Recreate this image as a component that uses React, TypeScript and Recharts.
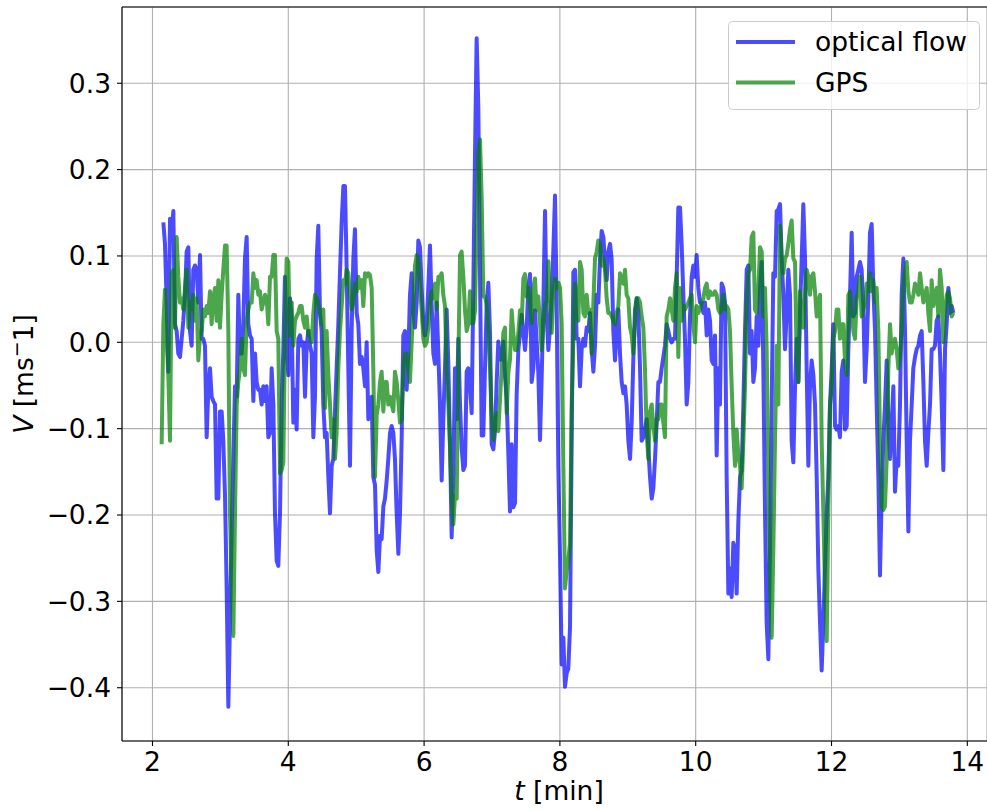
import React from "react"
import { CartesianGrid, Legend, Line, LineChart, ReferenceLine, XAxis, YAxis } from "recharts"

// time of each sample [min]
const minutes = [
  2.135, 2.160, 2.184,
  2.209, 2.233, 2.258, 2.282, 2.307, 2.331, 2.356, 2.380, 2.405, 2.430,
  2.454, 2.479, 2.503, 2.528, 2.552, 2.577, 2.601, 2.626, 2.651, 2.675,
  2.700, 2.724, 2.749, 2.773, 2.798, 2.822, 2.847, 2.871, 2.896, 2.921,
  2.945, 2.970, 2.994, 3.019, 3.043, 3.068, 3.092, 3.117, 3.141, 3.166,
  3.191, 3.215, 3.240, 3.264, 3.289, 3.313, 3.338, 3.362, 3.387, 3.411,
  3.436, 3.461, 3.485, 3.510, 3.534, 3.559, 3.583, 3.608, 3.632, 3.657,
  3.681, 3.706, 3.731, 3.755, 3.780, 3.804, 3.829, 3.853, 3.878, 3.902,
  3.927, 3.951, 3.976, 4.001, 4.025, 4.050, 4.074, 4.099, 4.123, 4.148,
  4.172, 4.197, 4.222, 4.246, 4.271, 4.295, 4.320, 4.344, 4.369, 4.393,
  4.418, 4.442, 4.467, 4.491, 4.516, 4.541, 4.565, 4.590, 4.614, 4.639,
  4.663, 4.688, 4.712, 4.737, 4.761, 4.786, 4.811, 4.835, 4.860, 4.884,
  4.909, 4.933, 4.958, 4.982, 5.007, 5.031, 5.056, 5.081, 5.105, 5.130,
  5.154, 5.179, 5.203, 5.228, 5.252, 5.277, 5.302, 5.326, 5.351, 5.375,
  5.400, 5.424, 5.449, 5.473, 5.498, 5.522, 5.547, 5.571, 5.596, 5.621,
  5.645, 5.670, 5.694, 5.719, 5.743, 5.768, 5.792, 5.817, 5.842, 5.866,
  5.891, 5.915, 5.940, 5.964, 5.989, 6.013, 6.038, 6.062, 6.087, 6.112,
  6.136, 6.161, 6.185, 6.210, 6.234, 6.259, 6.283, 6.308, 6.332, 6.357,
  6.382, 6.406, 6.431, 6.455, 6.480, 6.504, 6.529, 6.553, 6.578, 6.602,
  6.627, 6.651, 6.676, 6.701, 6.725, 6.750, 6.774, 6.799, 6.823, 6.848,
  6.872, 6.897, 6.922, 6.946, 6.971, 6.995, 7.020, 7.044, 7.069, 7.093,
  7.118, 7.142, 7.167, 7.192, 7.216, 7.241, 7.265, 7.290, 7.314, 7.339,
  7.363, 7.388, 7.413, 7.437, 7.462, 7.486, 7.511, 7.535, 7.560, 7.584,
  7.609, 7.633, 7.658, 7.682, 7.707, 7.732, 7.756, 7.781, 7.805, 7.830,
  7.854, 7.879, 7.903, 7.928, 7.952, 7.977, 8.002, 8.026, 8.051, 8.075,
  8.100, 8.124, 8.149, 8.173, 8.198, 8.222, 8.247, 8.272, 8.296, 8.321,
  8.345, 8.370, 8.394, 8.419, 8.443, 8.468, 8.493, 8.517, 8.542, 8.566,
  8.591, 8.615, 8.640, 8.664, 8.689, 8.713, 8.738, 8.762, 8.787, 8.812,
  8.836, 8.861, 8.885, 8.910, 8.934, 8.959, 8.983, 9.008, 9.033, 9.057,
  9.082, 9.106, 9.131, 9.155, 9.180, 9.204, 9.229, 9.253, 9.278, 9.302,
  9.327, 9.352, 9.376, 9.401, 9.425, 9.450, 9.474, 9.499, 9.523, 9.548,
  9.572, 9.597, 9.622, 9.646, 9.671, 9.695, 9.720, 9.744, 9.769, 9.793,
  9.818, 9.842, 9.867, 9.892, 9.916, 9.941, 9.965, 9.990, 10.014, 10.039,
  10.063, 10.088, 10.113, 10.137, 10.162, 10.186, 10.211, 10.235, 10.260, 10.284,
  10.309, 10.333, 10.358, 10.382, 10.407, 10.432, 10.456, 10.481, 10.505, 10.530,
  10.554, 10.579, 10.603, 10.628, 10.653, 10.677, 10.702, 10.726, 10.751, 10.775,
  10.800, 10.824, 10.849, 10.873, 10.898, 10.923, 10.947, 10.972, 10.996, 11.021,
  11.045, 11.070, 11.094, 11.119, 11.143, 11.168, 11.193, 11.217, 11.242, 11.266,
  11.291, 11.315, 11.340, 11.364, 11.389, 11.413, 11.438, 11.463, 11.487, 11.512,
  11.536, 11.561, 11.585, 11.610, 11.634, 11.659, 11.683, 11.708, 11.733, 11.757,
  11.782, 11.806, 11.831, 11.855, 11.880, 11.904, 11.929, 11.953, 11.978, 12.003,
  12.027, 12.052, 12.076, 12.101, 12.125, 12.150, 12.174, 12.199, 12.224, 12.248,
  12.273, 12.297, 12.322, 12.346, 12.371, 12.395, 12.420, 12.444, 12.469, 12.493,
  12.518, 12.543, 12.567, 12.592, 12.616, 12.641, 12.665, 12.690, 12.714, 12.739,
  12.763, 12.788, 12.813, 12.837, 12.862, 12.886, 12.911, 12.935, 12.960, 12.984,
  13.009, 13.033, 13.058, 13.083, 13.107, 13.132, 13.156, 13.181, 13.205, 13.230,
  13.254, 13.279, 13.304, 13.328, 13.353, 13.377, 13.402, 13.426, 13.451, 13.475,
  13.500, 13.524, 13.549, 13.573, 13.598, 13.623, 13.647, 13.672, 13.696, 13.721,
  13.745, 13.770, 13.794,
]

// optical flow velocity [m/s]
const opticalFlow = [
  null, 0.139, 0.114,
  0.046, -0.034, 0.143, 0.127, 0.152, 0.021, 0.013, -0.013, -0.017, 0.004,
  0.025, 0.055, 0.105, 0.110, 0.013, -0.004, 0.084, 0.089, 0.084, 0.046,
  0.101, 0.004, 0.004, -0.004, -0.110, -0.055, -0.030, -0.063, -0.068, -0.072,
  -0.181, -0.181, -0.080, -0.080, -0.114, -0.177, -0.283, -0.422, -0.325, -0.219,
  -0.135, -0.051, -0.063, 0.055, -0.013, -0.013, 0.021, 0.097, 0.122, 0.021,
  0.008, 0.004, -0.068, -0.013, -0.046, -0.055, -0.055, -0.072, -0.051, -0.068,
  -0.051, -0.110, -0.105, -0.030, -0.072, -0.198, -0.253, -0.259, -0.198, -0.072,
  -0.008, 0.076, -0.013, -0.038, 0.051, 0.025, -0.093, -0.055, -0.101, 0.004,
  0.008, -0.004, 0.000, -0.063, -0.004, 0.013, -0.004, -0.013, -0.110, -0.063,
  0.097, 0.135, 0.034, 0.013, -0.072, -0.110, -0.105, -0.156, -0.198, -0.143,
  -0.135, -0.080, -0.030, 0.021, 0.080, 0.139, 0.181, 0.181, 0.084, -0.030,
  -0.143, 0.013, 0.097, 0.131, 0.034, 0.021, -0.025, -0.017, -0.030, -0.051,
  0.000, -0.089, -0.072, -0.063, -0.156, -0.165, -0.241, -0.266, -0.224, -0.228,
  -0.190, -0.181, -0.160, -0.135, -0.105, -0.097, -0.105, -0.135, -0.198, -0.245,
  -0.198, -0.110, 0.008, 0.013, -0.055, -0.013, 0.055, 0.080, 0.034, 0.017,
  0.046, 0.118, 0.110, 0.063, 0.021, 0.008, 0.021, 0.063, 0.112, 0.042,
  -0.013, -0.025, 0.046, -0.013, -0.072, -0.160, -0.089, -0.030, 0.038, -0.025,
  -0.118, -0.226, -0.152, -0.030, -0.089, 0.004, -0.072, -0.122, -0.148, -0.143,
  -0.034, -0.030, -0.051, -0.082, 0.063, 0.219, 0.352, 0.271, 0.084, -0.108,
  -0.108, -0.030, 0.043, 0.069, 0.011, -0.118, -0.124, -0.103, -0.046, 0.001,
  -0.020, -0.020, 0.001, -0.040, -0.067, -0.129, -0.196, -0.118, -0.191, -0.186,
  -0.061, -0.009, 0.011, 0.032, 0.011, -0.009, 0.017, 0.063, 0.079, -0.046,
  -0.030, 0.037, 0.001, -0.035, -0.113, -0.040, 0.043, 0.152, 0.032, -0.009,
  0.017, 0.053, 0.105, 0.170, 0.048, -0.144, -0.248, -0.373, -0.342, -0.399,
  -0.383, -0.378, -0.330, -0.114, 0.081, 0.084, 0.004, 0.004, -0.051, -0.008,
  0.004, -0.004, 0.017, 0.013, 0.034, -0.008, -0.034, -0.004, 0.055, 0.046,
  0.097, 0.129, 0.122, 0.093, 0.072, 0.105, 0.114, 0.097, 0.013, -0.021,
  0.013, 0.038, -0.013, -0.046, -0.059, -0.051, -0.072, -0.114, -0.135, -0.093,
  -0.017, 0.038, 0.051, 0.034, -0.030, -0.114, -0.110, -0.101, -0.089, -0.122,
  -0.156, -0.181, -0.169, -0.135, -0.093, -0.046, -0.046, -0.030, -0.017, -0.004,
  0.021, 0.013, 0.004, 0.000, 0.004, 0.004, 0.076, 0.156, 0.156, 0.114,
  0.055, 0.004, -0.072, -0.046, 0.030, 0.076, 0.089, 0.076, 0.101, 0.063,
  0.046, 0.046, 0.034, 0.046, 0.008, 0.038, 0.025, -0.021, -0.025, 0.008,
  -0.131, -0.030, -0.072, 0.068, 0.063, 0.046, -0.156, -0.291, -0.262, -0.295,
  -0.232, -0.241, -0.291, -0.207, -0.156, -0.148, -0.072, 0.013, 0.084, 0.089,
  -0.013, 0.013, -0.046, -0.030, 0.030, -0.004, 0.063, 0.093, -0.030, -0.198,
  -0.325, -0.367, -0.241, -0.072, 0.080, 0.076, 0.152, 0.154, 0.160, 0.097,
  0.055, -0.008, 0.034, 0.084, 0.055, -0.114, -0.139, -0.051, 0.004, -0.046,
  0.034, 0.097, 0.160, 0.097, -0.030, -0.143, -0.051, -0.021, -0.038, -0.072,
  -0.156, -0.262, -0.325, -0.380, -0.325, -0.262, -0.198, -0.156, -0.072, -0.030,
  0.021, -0.097, -0.101, -0.097, -0.110, -0.034, -0.021, -0.101, -0.097, -0.008,
  0.055, 0.127, 0.030, 0.034, 0.076, 0.084, 0.093, 0.084, 0.042, -0.046,
  -0.008, 0.055, 0.127, 0.137, 0.063, 0.013, -0.072, -0.156, -0.270, -0.177,
  -0.114, -0.072, -0.021, -0.093, -0.135, -0.093, -0.051, -0.173, -0.135, -0.143,
  -0.072, 0.055, 0.097, 0.013, -0.114, -0.219, -0.114, -0.072, -0.030, -0.017,
  -0.008, -0.004, 0.008, 0.013, -0.046, -0.114, -0.143, -0.105, -0.072, -0.008,
  -0.008, -0.004, 0.025, 0.030, -0.013, -0.072, -0.148, -0.008, 0.021, 0.063,
  0.034, 0.042, 0.034,
]

// GPS velocity [m/s]
const gps = [
  -0.118, 0.021, 0.061,
  0.004, -0.038, -0.114, 0.080, 0.084, 0.017, 0.122, 0.076, 0.046, 0.051,
  0.038, 0.063, 0.084, 0.017, 0.046, 0.038, 0.055, 0.025, 0.051, -0.021,
  0.008, 0.013, 0.038, 0.030, 0.042, 0.034, 0.059, 0.021, 0.051, 0.063,
  0.025, 0.072, 0.017, 0.055, 0.084, 0.112, 0.112, 0.013, -0.198, -0.283,
  -0.340, -0.198, -0.072, -0.046, -0.030, 0.004, -0.030, -0.038, 0.025, 0.038,
  0.046, 0.046, 0.080, 0.063, 0.072, 0.055, 0.059, 0.038, 0.046, 0.055,
  0.051, 0.021, 0.076, 0.076, 0.101, 0.101, 0.013, 0.004, -0.152, -0.148,
  -0.139, 0.013, 0.097, 0.093, 0.008, 0.046, -0.004, 0.025, 0.030, 0.034,
  0.042, 0.042, 0.025, 0.017, 0.030, 0.008, 0.013, 0.000, 0.034, 0.055,
  0.051, 0.046, 0.034, 0.021, 0.038, -0.076, 0.013, -0.038, -0.072, -0.110,
  -0.089, -0.135, -0.105, -0.030, 0.013, 0.042, 0.072, 0.068, 0.084, 0.080,
  0.055, 0.038, 0.046, 0.068, 0.059, 0.076, 0.063, 0.072, 0.042, 0.080,
  0.076, 0.080, 0.078, 0.063, -0.030, -0.156, -0.084, -0.072, -0.046, -0.034,
  -0.080, -0.046, -0.046, -0.072, -0.063, -0.072, -0.080, -0.034, -0.046, -0.068,
  -0.093, -0.089, -0.030, -0.013, -0.013, -0.030, -0.046, 0.000, 0.046, 0.089,
  0.101, 0.097, 0.063, 0.038, 0.004, -0.004, 0.000, 0.017, 0.046, 0.059,
  0.051, 0.068, 0.038, 0.076, 0.076, 0.080, 0.055, 0.042, -0.030, -0.072,
  -0.122, -0.181, -0.211, -0.177, -0.181, -0.030, 0.101, 0.105, 0.076, 0.038,
  0.013, 0.021, 0.059, 0.022, 0.022, 0.037, 0.141, 0.219, 0.235, 0.167,
  0.053, 0.053, 0.043, 0.011, -0.030, -0.082, -0.113, -0.092, -0.082, -0.103,
  -0.066, -0.030, 0.011, 0.017, -0.082, -0.035, -0.020, 0.037, 0.011, -0.009,
  -0.009, 0.011, 0.037, 0.022, 0.074, 0.079, 0.053, 0.063, 0.043, 0.022,
  0.063, 0.074, 0.037, 0.053, 0.022, -0.009, 0.017, 0.043, 0.048, 0.094,
  0.053, 0.011, 0.053, 0.074, 0.063, 0.069, 0.063, 0.022, -0.144, -0.285,
  -0.264, -0.253, -0.232, -0.072, 0.000, 0.068, 0.046, 0.025, 0.093, 0.084,
  0.034, 0.030, 0.055, 0.034, 0.038, -0.013, 0.046, 0.097, 0.105, 0.118,
  0.114, 0.089, 0.097, 0.084, 0.051, 0.034, 0.034, 0.030, 0.025, 0.021,
  0.034, 0.042, 0.080, 0.072, 0.068, 0.084, 0.055, 0.051, 0.017, 0.008,
  -0.013, 0.021, 0.051, 0.051, 0.046, 0.030, 0.017, -0.030, -0.105, -0.135,
  -0.080, -0.072, -0.097, -0.114, -0.089, -0.089, -0.072, -0.072, -0.093, -0.110,
  0.030, 0.038, 0.051, 0.038, 0.025, 0.063, 0.080, -0.017, 0.063, 0.025,
  0.042, 0.038, 0.042, 0.046, 0.051, 0.055, 0.021, 0.000, 0.042, 0.034,
  0.038, 0.046, 0.051, 0.063, 0.068, 0.051, 0.059, 0.055, 0.055, 0.059,
  0.055, 0.038, 0.034, 0.038, 0.055, 0.038, 0.042, 0.038, 0.013, -0.051,
  -0.105, -0.143, -0.101, -0.131, -0.143, -0.169, -0.114, -0.051, 0.042, 0.080,
  0.084, 0.122, 0.127, 0.038, 0.034, 0.063, 0.110, 0.105, 0.030, 0.063,
  -0.008, -0.156, -0.283, -0.342, -0.241, -0.114, -0.004, -0.072, 0.135, 0.097,
  0.080, 0.097, 0.101, 0.114, 0.131, 0.141, 0.097, 0.093, -0.021, -0.046,
  0.059, 0.030, 0.017, 0.055, 0.084, 0.076, 0.055, 0.076, 0.080, 0.059,
  0.030, 0.046, 0.055, -0.114, -0.198, -0.283, -0.346, -0.198, -0.072, -0.051,
  0.004, 0.013, 0.038, 0.038, 0.004, 0.021, 0.021, -0.021, -0.038, 0.055,
  0.059, 0.038, 0.013, 0.004, 0.051, 0.059, 0.076, 0.030, 0.038, 0.046,
  0.068, 0.059, 0.080, 0.059, 0.072, 0.046, 0.063, 0.013, -0.114, -0.190,
  -0.194, -0.190, -0.135, -0.030, 0.021, -0.013, 0.000, 0.004, -0.008, -0.030,
  -0.017, 0.013, 0.063, 0.084, 0.093, 0.059, 0.046, 0.046, 0.055, 0.068,
  0.063, 0.055, 0.080, 0.063, 0.046, 0.055, 0.063, 0.034, 0.013, 0.072,
  0.042, 0.055, 0.063, 0.030, 0.084, 0.063, 0.000, 0.034, 0.055, 0.059,
  0.051, 0.030, 0.034,
]

const xTicks = [2, 4, 6, 8, 10, 12, 14]
const yTicks = [-0.4, -0.3, -0.2, -0.1, 0, 0.1, 0.2, 0.3]

const X_DOMAIN = [1.551, 14.29]
const Y_DOMAIN = [-0.4617, 0.3883]

const FONT = "DejaVu Sans"
const FS = 26.5
const BLUE = "#0000ff"
const GREEN = "#008000"

const data = minutes.map((t, i) => ({ t, flow: opticalFlow[i], gps: gps[i] }))

const fmtY = (v: number) => (v < 0 ? "\u2212" : "") + Math.abs(v).toFixed(1)

function LegendBox() {
  return (
    <svg width={252} height={89} style={{ display: "block" }}>
      <rect x={0.5} y={0.5} width={251} height={88} rx={4} fill="#fff" fillOpacity={0.8} stroke="#cccccc" strokeWidth={1} />
      <line x1={8} x2={67} y1={21} y2={21} stroke={BLUE} strokeOpacity={0.7} strokeWidth={4} />
      <line x1={8} x2={67} y1={61.5} y2={61.5} stroke={GREEN} strokeOpacity={0.7} strokeWidth={4} />
      <text x={87} y={30} fontFamily={FONT} fontSize={FS} fill="#000">optical flow</text>
      <text x={87} y={70.5} fontFamily={FONT} fontSize={FS} fill="#000">GPS</text>
    </svg>
  )
}

export default function App() {
  return (
    <div style={{ position: "absolute", left: 0, top: 0, background: "#fff" }}>
      <LineChart width={987} height={811} data={data} margin={{ top: 7, right: 0, bottom: 0, left: 0 }}>
        <CartesianGrid stroke="#b0b0b0" strokeWidth={1.1} />
        <XAxis
          dataKey="t"
          type="number"
          domain={X_DOMAIN}
          ticks={xTicks}
          interval={0}
          allowDataOverflow
          height={70}
          stroke="#000"
          strokeWidth={1.1}
          tickSize={5}
          tickMargin={6}
          tick={{ fill: "#000", fontSize: FS, fontFamily: FONT }}
          label={{
            content: () => (
              <text x={559} y={800} textAnchor="middle" fontFamily={FONT} fontSize={FS} fill="#000">
                <tspan fontStyle="italic">t</tspan> [min]
              </text>
            ),
          }}
        />
        <YAxis
          type="number"
          domain={Y_DOMAIN}
          ticks={yTicks}
          interval={0}
          allowDataOverflow
          width={122}
          stroke="#000"
          strokeWidth={1.1}
          tickSize={5}
          tickMargin={6}
          tickFormatter={fmtY}
          tick={{ fill: "#000", fontSize: FS, fontFamily: FONT }}
          label={{
            content: () => (
              <text x={33} y={374} transform="rotate(-90, 33, 374)" textAnchor="middle" fontFamily={FONT} fontSize={FS} fill="#000">
                <tspan fontStyle="italic">V</tspan> [ms<tspan dy={-10} fontSize={19}>{"\u2212"}</tspan><tspan dy={10}>1]</tspan>
              </text>
            ),
          }}
        />
        <ReferenceLine y={Y_DOMAIN[1]} stroke="#000" strokeWidth={1.1} />
        <Line type="linear" dataKey="flow" name="optical flow" stroke={BLUE} strokeOpacity={0.7} strokeWidth={4} strokeLinejoin="round" dot={false} activeDot={false} isAnimationActive={false} />
        <Line type="linear" dataKey="gps" name="GPS" stroke={GREEN} strokeOpacity={0.7} strokeWidth={4} strokeLinejoin="round" dot={false} activeDot={false} isAnimationActive={false} />
        <Legend
          layout="horizontal"
          verticalAlign="middle"
          align="center"
          wrapperStyle={{ left: 728, top: 21, width: 252, height: 89 }}
          content={() => <LegendBox />}
        />
      </LineChart>
    </div>
  )
}
